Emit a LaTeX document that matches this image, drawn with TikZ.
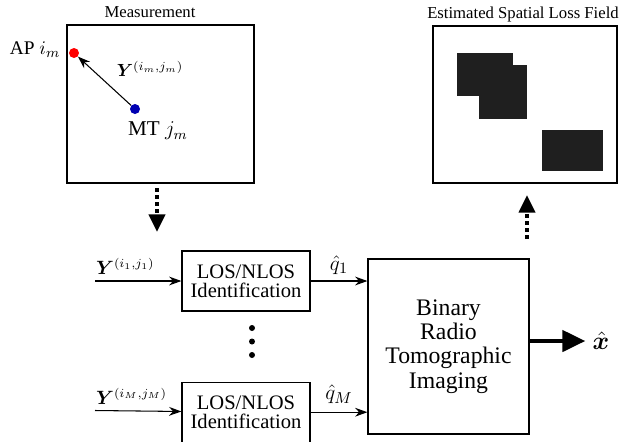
\documentclass[tikz,border=0pt]{standalone}
\usepackage{fontspec}
\setmainfont{Liberation Serif}
\usepackage{amsmath}
\usepackage{bm}
\usetikzlibrary{positioning, arrows.meta}

\begin{document}
\begin{tikzpicture}[
    x=0.02cm, y=-0.02cm,
    field/.style={draw, line width=0.8pt, rectangle, inner sep=0pt},
    idbox/.style={draw, line width=0.7pt, rectangle, minimum width=2.56cm, minimum height=1.2cm, align=center, inner sep=0pt, font=\fontsize{11.7}{11}\selectfont},
    imgbox/.style={draw, line width=0.7pt, rectangle, minimum width=3.22cm, minimum height=3.5cm, align=center, inner sep=0pt, font=\fontsize{13.5}{13.8}\selectfont},
    title/.style={font=\fontsize{9.5}{10}\selectfont},
    dot/.style={circle, inner sep=0pt, minimum size=0.2cm},
    arr/.style={-{Stealth[length=7pt, width=5pt]}, line width=0.6pt},
    flow/.style={-{Triangle[length=10pt, width=9pt]}, line width=2.3pt, dash pattern=on 2.2pt off 1.8pt},
    outarr/.style={-{Triangle[length=13pt, width=12pt]}, line width=2.3pt}
]
    \useasboundingbox (0,0) rectangle (619,441);

    % measurement field
    \node[field, minimum width=3.74cm, minimum height=3.16cm] (meas) at (160.5,104) {};
    \node[title] (meastitle) at (150,12) {Measurement};
    \node[dot, fill=red] (ap) at (74,53) {};
    \node[dot, fill=blue!70!black] (mt) at (135,109) {};
    \draw[arr] (mt) -- (ap);
    \node[font=\fontsize{11}{12}\selectfont] (aplabel) at (35,50) {AP $i_m$};
    \node[font=\fontsize{12}{13}\selectfont] (mtlabel) at (158,131) {MT $j_m$};
    \node (ylabel) at (150,69) {$\bm{Y}^{(i_m,j_m)}$};

    % estimated field
    \node[field, minimum width=3.68cm, minimum height=3.14cm] (loss) at (525,104.5) {};
    \node[title] (losstitle) at (523,14) {Estimated Spatial Loss Field};
    \fill[black!88] (457,53) rectangle (513,96);
    \fill[black!88] (479,65) rectangle (527,119);
    \fill[black!88] (542,130) rectangle (603,171);

    % processing chain
    \node[idbox] (los1) at (246,281) {LOS/NLOS\\Identification};
    \node[idbox] (los2) [below=1.4cm of los1] {LOS/NLOS\\Identification};
    \node[imgbox] (bri) at (448.5,346.5) {Binary\\Radio\\Tomographic\\Imaging};

    \coordinate (in1) at (95,281);
    \coordinate (in2) at (95,410.5);
    \draw[arr] (in1) -- node[pos=0, above right, xshift=-3pt, font=\fontsize{10.5}{12}\selectfont] {$\bm{Y}^{(i_1,j_1)}$} (los1);
    \draw[arr] (in2) -- node[pos=0, above right, xshift=-3pt, font=\fontsize{10.5}{12}\selectfont] {$\bm{Y}^{(i_M,j_M)}$} (los2);
    \draw[arr] (los1) -- node[above, font=\fontsize{13}{14}\selectfont] {$\hat{q}_1$} (los1 -| bri.west);
    \draw[arr] (los2) -- node[above, yshift=1pt, font=\fontsize{13}{14}\selectfont] {$\hat{q}_M$} (los2 -| bri.west);

    \foreach \y in {328,341.5,355}
        \fill (252,\y) circle (0.06cm);

    \node[font=\fontsize{14}{16}\selectfont, inner sep=1pt] (xhat) at (601,341) {$\hat{\bm{x}}$};
    \draw[outarr] (bri.east |- xhat) -- ([xshift=-3pt]xhat.west);

    % flow between fields
    \coordinate (down0) at (157,188);
    \coordinate (down1) at (157,232);
    \coordinate (up0) at (527,239);
    \coordinate (up1) at (527,195);
    \draw[flow] (down0) -- (down1);
    \draw[flow] (up0) -- (up1);
\end{tikzpicture}
\end{document}
